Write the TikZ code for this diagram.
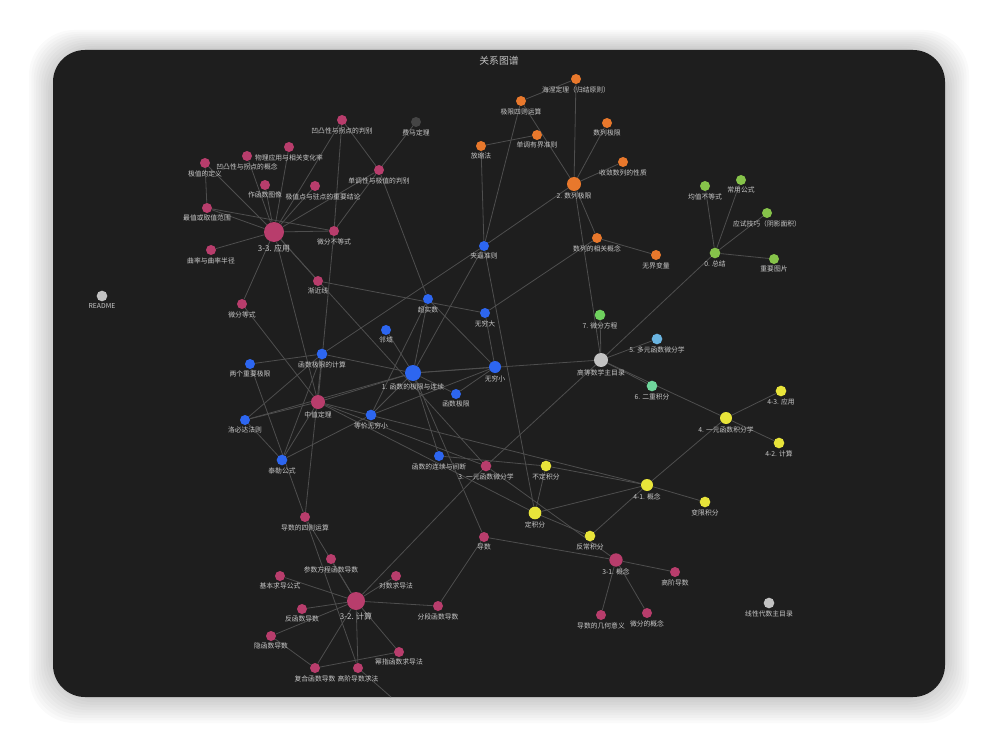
\documentclass[tikz,border=0pt]{standalone}
\usepackage{fontspec}
\setmainfont{Noto Sans CJK SC}
\pgfdeclarelayer{back}
\pgfdeclarelayer{edges}
\pgfsetlayers{back,edges,main}
\definecolor{panel}{HTML}{1E1E1E}
\definecolor{pk}{HTML}{B83D6C}
\definecolor{bl}{HTML}{2D66F0}
\definecolor{og}{HTML}{E8782C}
\definecolor{gr}{HTML}{86C34A}
\definecolor{gr7}{HTML}{6FD15E}
\definecolor{lb}{HTML}{6AB4E0}
\definecolor{mt}{HTML}{6FD69C}
\definecolor{yl}{HTML}{E8E43A}
\definecolor{gy}{HTML}{C2C2C2}
\definecolor{dk}{HTML}{454545}
\definecolor{edgec}{HTML}{4E4E4E}
\definecolor{txt}{HTML}{C8C8C8}
\tikzset{
  lbl/.style={text=txt,font=\fontsize{5.1}{6}\selectfont,inner sep=0.5pt},
  edge/.style={draw=edgec,line width=0.6pt},
}
\newcommand\mynode[6]{\node[circle,inner sep=0pt,minimum size=#4,fill=#5,label={[lbl,label distance=0.8pt]below:#6}] (#1) at (#2,#3) {};}
\begin{document}
\begin{tikzpicture}[x=0.75pt,y=-0.75pt]
\useasboundingbox (0,0) rectangle (998,748);
\begin{pgfonlayer}{back}
\fill[white] (0,0) rectangle (998,748);
\foreach \i in {1,...,10}{
  \fill[black,opacity=0.018,rounded corners=34pt] (53-2.4*\i,50-2.0*\i) rectangle (945+2.4*\i,697+2.6*\i);
}
\fill[panel,rounded corners=24pt] (53,50) rectangle (945,697);
\end{pgfonlayer}
\node[text=txt!110,font=\fontsize{7.4}{8}\selectfont] (title) at (499,61) {关系图谱};

% ---- pink (3) ----
\mynode{a33}{274}{232}{15pt}{pk}{\fontsize{6}{7}\selectfont 3-3. 应用}
\mynode{tuao}{342}{120}{7.5pt}{pk}{凹凸性与拐点的判别}
\mynode{fema}{416}{122}{7.5pt}{dk}{费马定理}
\mynode{wuli}{289}{147}{7.5pt}{pk}{物理应用与相关变化率}
\mynode{aogn}{247}{156}{7.5pt}{pk}{凹凸性与拐点的概念}
\mynode{jzdy}{205}{163}{7.5pt}{pk}{极值的定义}
\mynode{ddpb}{379}{170}{7.5pt}{pk}{单调性与极值的判别}
\mynode{zuotu}{265}{185}{7.5pt}{pk}{作函数图像}
\mynode{jzjl}{315}{186}{7.5pt}{pk}{\hspace*{12pt}极值点与驻点的重要结论}
\mynode{zuizhi}{207}{208}{7.5pt}{pk}{最值或取值范围}
\mynode{qulv}{211}{250}{7.5pt}{pk}{曲率与曲率半径}
\mynode{wfbd}{334}{231}{7.5pt}{pk}{微分不等式}
\mynode{jjx}{318}{281}{7.5pt}{pk}{渐近线}
\mynode{wfds}{242}{304}{7.5pt}{pk}{微分等式}
\mynode{zzdl}{318}{402}{10.5pt}{pk}{中值定理}
\mynode{a3}{486}{466}{8pt}{pk}{3. 一元函数微分学}
\mynode{ds}{484}{537}{7.5pt}{pk}{导数}
\mynode{a31}{616}{560}{10pt}{pk}{3-1. 概念}
\mynode{gjds}{675}{572}{7.5pt}{pk}{高阶导数}
\mynode{jhyy}{601}{615}{7.5pt}{pk}{导数的几何意义}
\mynode{wfgn}{647}{613}{7.5pt}{pk}{微分的概念}
\mynode{szys}{305}{517}{7.5pt}{pk}{导数的四则运算}
\mynode{csfc}{331}{559}{7.5pt}{pk}{参数方程函数导数}
\mynode{jbgs}{280}{576}{7.5pt}{pk}{基本求导公式}
\mynode{dsqd}{396}{576}{7.5pt}{pk}{对数求导法}
\mynode{a32}{356}{601}{13.5pt}{pk}{\fontsize{6}{7}\selectfont 3-2. 计算}
\mynode{fhs}{302}{609}{7.5pt}{pk}{反函数导数}
\mynode{fdhs}{438}{606}{7.5pt}{pk}{分段函数导数}
\mynode{yhs}{271}{636}{7.5pt}{pk}{隐函数导数}
\mynode{mzhs}{399}{652}{7.5pt}{pk}{幂指函数求导法}
\mynode{fhhs}{315}{668}{7.5pt}{pk}{复合函数导数}
\mynode{gjqf}{358}{668}{7.5pt}{pk}{高阶导数求法}
\coordinate (offb) at (391,697);

% ---- blue (1) ----
\mynode{b1}{413}{373}{12pt}{bl}{1. 函数的极限与连续}
\mynode{jbzz}{484}{246}{7.5pt}{bl}{夹逼准则}
\mynode{csh}{428}{299}{7.5pt}{bl}{超实数}
\mynode{wqd}{485}{313}{7.5pt}{bl}{无穷大}
\mynode{ly}{386}{330}{7.5pt}{bl}{邻域}
\mynode{wqx}{495}{367}{9pt}{bl}{无穷小}
\mynode{hsjx}{456}{394}{7.5pt}{bl}{函数极限}
\mynode{jxjs}{322}{354}{8pt}{bl}{函数极限的计算}
\mynode{lgzy}{250}{364}{7.5pt}{bl}{两个重要极限}
\mynode{lbd}{245}{420}{7.5pt}{bl}{洛必达法则}
\mynode{djwq}{371}{415}{8pt}{bl}{等价无穷小}
\mynode{tl}{282}{460}{8pt}{bl}{泰勒公式}
\mynode{lxjd}{439}{456}{7.5pt}{bl}{函数的连续与间断}

% ---- orange (2) ----
\mynode{o2}{574}{184}{10.5pt}{og}{2. 数列极限}
\mynode{hn}{576}{79}{7.5pt}{og}{海涅定理（归结原则）}
\mynode{jxsz}{521}{101}{7.5pt}{og}{极限四则运算}
\mynode{sljx}{607}{123}{7.5pt}{og}{数列极限}
\mynode{ddyj}{537}{135}{7.5pt}{og}{单调有界准则}
\mynode{fsf}{481}{146}{7.5pt}{og}{放缩法}
\mynode{slxz}{623}{162}{7.5pt}{og}{收敛数列的性质}
\mynode{xggn}{597}{238}{7.5pt}{og}{数列的相关概念}
\mynode{wjbl}{656}{255}{7.5pt}{og}{无界变量}

% ---- green (0) ----
\mynode{z0}{715}{253}{8pt}{gr}{0. 总结}
\mynode{jzbd}{705}{186}{7.5pt}{gr}{均值不等式}
\mynode{cygs}{741}{180}{7.5pt}{gr}{常用公式}
\mynode{ysjq}{767}{213}{7.5pt}{gr}{应试技巧（阴影面积）}
\mynode{zytp}{774}{259}{7.5pt}{gr}{重要图片}

% ---- others ----
\mynode{m7}{600}{315}{8pt}{gr7}{7. 微分方程}
\mynode{m5}{657}{339}{8pt}{lb}{5. 多元函数微分学}
\mynode{zml}{601}{360}{10.5pt}{gy}{高等数学主目录}
\mynode{m6}{652}{386}{8pt}{mt}{6. 二重积分}
\mynode{y4}{726}{418}{9pt}{yl}{4. 一元函数积分学}
\mynode{y43}{781}{391}{8pt}{yl}{4-3. 应用}
\mynode{y42}{779}{443}{8pt}{yl}{4-2. 计算}
\mynode{y41}{647}{485}{9pt}{yl}{4-1. 概念}
\mynode{bxjf}{705}{502}{8pt}{yl}{变限积分}
\mynode{bdjf}{546}{466}{8pt}{yl}{不定积分}
\mynode{djf}{535}{513}{9.5pt}{yl}{定积分}
\mynode{fcjf}{590}{536}{8pt}{yl}{反常积分}
\mynode{xd}{769}{603}{8pt}{gy}{线性代数主目录}
\mynode{readme}{102}{296}{8pt}{gy}{README}

\begin{pgfonlayer}{edges}
\foreach \u/\v in {hn/jxsz,hn/o2,jxsz/o2,jxsz/jbzz,ddyj/fsf,fsf/jbzz,sljx/o2,slxz/o2,o2/jbzz,xggn/o2,xggn/wjbl,xggn/wqd,o2/zml,
 zml/m7,zml/m5,zml/m6,zml/y4,zml/z0,zml/b1,zml/a3,
 z0/jzbd,z0/cygs,z0/ysjq,z0/zytp,
 y4/y43,y4/y42,y4/y41,y41/bxjf,y41/djf,y41/fcjf,y41/bdjf,bdjf/djf,djf/fcjf,lxjd/bdjf,jbzz/djf,zzdl/djf,zzdl/y41,zzdl/a3,
 a3/a31,a3/a32,a3/a33,
 a33/jzdy,a33/aogn,a33/wuli,a33/zuotu,a33/jzjl,a33/tuao,a33/ddpb,a33/zuizhi,a33/qulv,a33/wfbd,a33/jjx,a33/wfds,a33/zzdl,
 jzdy/zuizhi,zuizhi/wfbd,tuao/wfbd,tuao/ddpb,ddpb/wfbd,fema/ddpb,ddpb/csh,wfbd/zzdl,wfds/zzdl,szys/jxjs,szys/lgzy,
 b1/csh,b1/ly,b1/wqx,b1/hsjx,b1/djwq,b1/lxjd,b1/jxjs,b1/zzdl,b1/jbzz,b1/ds,lbd/b1,
 jbzz/jxjs,jjx/wqd,csh/wqx,csh/djwq,wqd/wqx,hsjx/wqx,djwq/wqx,lgzy/jxjs,lbd/jxjs,lbd/zzdl,lbd/tl,tl/jxjs,tl/zzdl,tl/djwq,
 ds/a31,ds/fdhs,a31/gjds,a31/jhyy,a31/wfgn,
 a32/jbgs,a32/csfc,a32/dsqd,a32/fdhs,a32/fhs,a32/yhs,a32/fhhs,a32/gjqf,a32/mzhs,a32/szys,
 fhhs/mzhs,yhs/fhhs,szys/gjqf,gjqf/offb}
 {\draw[edge] (\u) -- (\v);}
\end{pgfonlayer}
\end{tikzpicture}
\end{document}
